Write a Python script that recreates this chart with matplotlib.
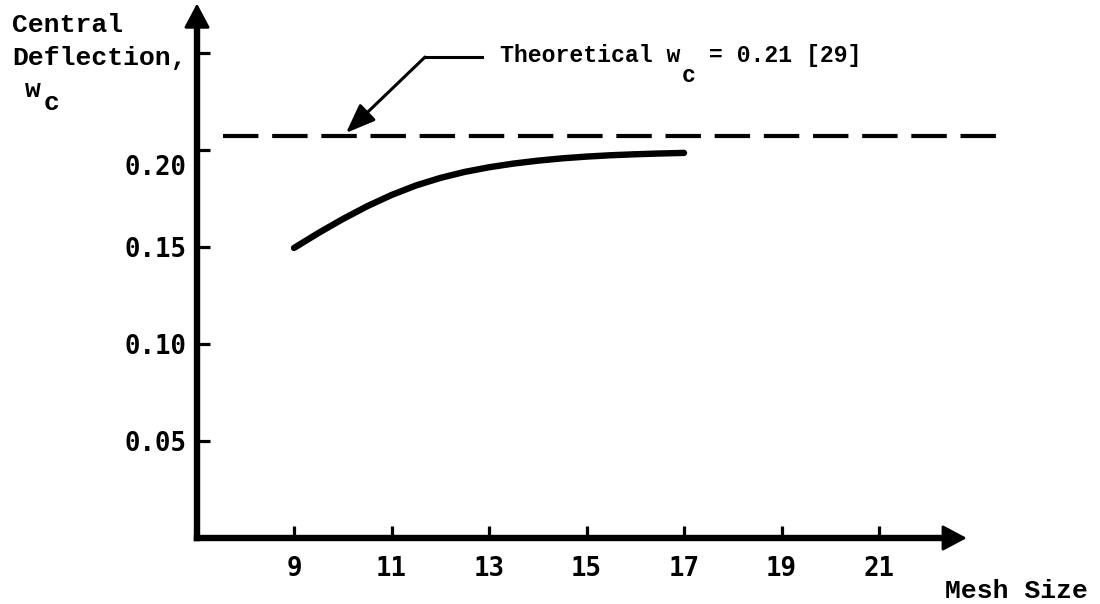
import matplotlib
matplotlib.use("Agg")
import matplotlib.pyplot as plt
from matplotlib.transforms import ScaledTranslation

# ---- data ----
mesh_size = [9, 9.5, 10, 10.5, 11, 11.5, 12, 12.5, 13, 13.5, 14, 14.5, 15, 15.5, 16, 16.5, 17]
deflection = [0.1495, 0.1572, 0.1644, 0.1710, 0.1768, 0.1817, 0.1856, 0.1887, 0.1911,
              0.1930, 0.1945, 0.1957, 0.1966, 0.1973, 0.1978, 0.1982, 0.1985]
theory_level = 0.207          # drawn position of the theoretical value line
theory_span = [7.54, 23.45]   # x extent of dashed line
x_ticks = [9, 11, 13, 15, 17, 19, 21]
y_ticks = [0.05, 0.10, 0.15, 0.20, 0.25]
y_tick_labels = ["0.05", "0.10", "0.15", "0.20", ""]

W, H = 1100, 604
fig = plt.figure(figsize=(W / 100, H / 100), dpi=100)
ax = fig.add_axes([0, 0, 1, 1])
ax.set_xlim(2.969, 25.533)
ax.set_ylim(-0.03402, 0.27732)
ax.patch.set_visible(False)

x_origin = 7.01
x_end = 22.8
y_end = 0.2755
axw = 4.6

for s in ("top", "right"):
    ax.spines[s].set_visible(False)
ax.spines["left"].set_position(("data", x_origin))
ax.spines["bottom"].set_position(("data", 0))
ax.spines["left"].set_bounds(0, y_end - 0.008)
ax.spines["bottom"].set_bounds(x_origin, x_end - 0.3)
for s in ("left", "bottom"):
    ax.spines[s].set_linewidth(axw)
    ax.spines[s].set_capstyle("projecting")

# arrow heads on axes
head = "-|>,head_length=0.75,head_width=0.4"
ax.annotate("", xy=(x_origin, y_end), xytext=(x_origin, y_end - 0.02),
            arrowprops=dict(arrowstyle=head, lw=2, color="black",
                            shrinkA=0, shrinkB=0, mutation_scale=20))
ax.annotate("", xy=(x_end, 0), xytext=(x_end - 0.6, 0),
            arrowprops=dict(arrowstyle=head, lw=2, color="black",
                            shrinkA=0, shrinkB=0, mutation_scale=20))

tick_font = dict(family="DejaVu Sans Mono", size=18.5, weight="bold")
ax.set_xticks(x_ticks)
ax.set_xticklabels([str(v) for v in x_ticks], fontdict=tick_font)
ax.set_yticks(y_ticks)
ax.set_yticklabels(y_tick_labels, fontdict=tick_font)
ax.tick_params(axis="both", direction="in", length=9, width=2.3, color="black")
ax.tick_params(axis="y", pad=7.5)
ax.tick_params(axis="x", pad=13)
for lab in ax.get_yticklabels():
    if lab.get_text() == "0.20":
        lab.set_transform(lab.get_transform() + ScaledTranslation(0, -0.15, fig.dpi_scale_trans))

# curve
ax.plot(mesh_size, deflection, color="black", lw=4.6, solid_capstyle="round",
        solid_joinstyle="round")

# theoretical dashed line
ax.plot(theory_span, [theory_level, theory_level], color="black", lw=3.0,
        dashes=(8.5, 3.3), dash_capstyle="butt")

# leader with arrow
lead_x0, lead_x1, lead_y = 11.687, 12.856, 0.2479
ax.plot([lead_x0, lead_x1], [lead_y, lead_y], color="black", lw=2.2)
ax.annotate("", xy=(10.067, 0.2088), xytext=(lead_x0, lead_y),
            arrowprops=dict(arrowstyle="-|>,head_length=0.9,head_width=0.35",
                            lw=2.2, color="black", shrinkA=0, shrinkB=0,
                            mutation_scale=20))


def fx(px):
    return px / W


def fy(py):
    return 1 - py / H


lab_font = dict(family="Liberation Mono", weight="bold", color="black")

t1 = fig.text(fx(500), fy(62), "Theoretical w", va="baseline", ha="left",
              size=16.7, **lab_font)
t2 = ax.annotate("c", xy=(1, 0), xycoords=t1, xytext=(1, -20),
                 textcoords="offset pixels", va="bottom", ha="left",
                 size=16.7, **lab_font)
ax.annotate(" = 0.21 [29]", xy=(1, 0), xycoords=(t2, t1), xytext=(0, 0),
            textcoords="offset pixels", va="bottom", ha="left",
            size=16.7, **lab_font)

# y-axis title
fig.text(fx(12), fy(32), "Central", va="baseline", ha="left", size=19, **lab_font)
fig.text(fx(12), fy(65), "Deflection,", va="baseline", ha="left", size=19, **lab_font)
fig.text(fx(25), fy(97), "w", va="baseline", ha="left", size=19, **lab_font)
fig.text(fx(44), fy(110), "c", va="baseline", ha="left", size=19, **lab_font)

# x-axis title
fig.text(fx(945), fy(598), "Mesh Size", va="baseline", ha="left", size=19, **lab_font)

fig.savefig("out.png", dpi=100)
